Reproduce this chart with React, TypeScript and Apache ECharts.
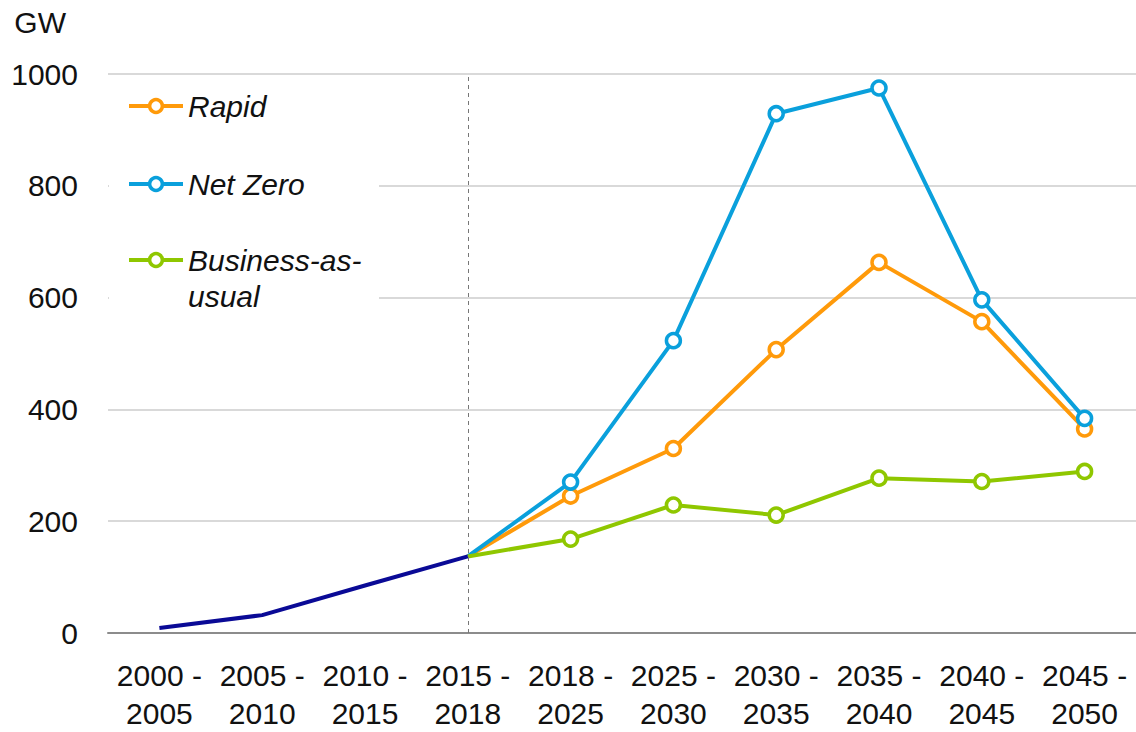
import React, { useEffect, useRef } from "react";
import * as echarts from "echarts";

const categories = [
  "2000 -\n2005",
  "2005 -\n2010",
  "2010 -\n2015",
  "2015 -\n2018",
  "2018 -\n2025",
  "2025 -\n2030",
  "2030 -\n2035",
  "2035 -\n2040",
  "2040 -\n2045",
  "2045 -\n2050",
];
const historical = [9, 32, 85, 137, null, null, null, null, null, null];
const rapid = [null, null, null, 137, 245, 330, 507, 663, 557, 365];
const netZero = [null, null, null, 137, 270, 523, 929, 975, 596, 384];
const bau = [null, null, null, 137, 168, 229, 211, 277, 271, 289];
const yTicks = { min: 0, max: 1000, interval: 200 };

const FONT = "'Liberation Sans', Arial, sans-serif";

function scenario(name: string, values: (number | null)[], color: string) {
  return {
    name,
    type: "line",
    data: values.map((v, i) => (i === 3 ? { value: v, symbol: "none" } : v)),
    symbol: "circle",
    symbolSize: 14,
    showSymbol: true,
    connectNulls: false,
    lineStyle: { color, width: 4 },
    itemStyle: { color: "#ffffff", borderColor: color, borderWidth: 3.5 },
    z: 3,
  };
}

export default function App() {
  const ref = useRef<HTMLDivElement>(null);
  useEffect(() => {
    if (!ref.current) return;
    const chart = echarts.init(ref.current, null, { renderer: "svg" });
    const L = 36;
    const legendBase = {
      orient: "vertical",
      left: 127,
      padding: 0,
      itemWidth: 54,
      itemHeight: 16,
      itemGap: 0,
      itemStyle: { borderWidth: 3.5 },
      lineStyle: { width: 4 },
      textStyle: {
        fontFamily: FONT,
        fontSize: 30,
        fontStyle: "italic",
        color: "#111",
        lineHeight: L,
      },
      z: 10,
    };
    chart.setOption({
      animation: false,
      textStyle: { fontFamily: FONT },
      grid: { left: 108, right: 0, top: 74, bottom: 94, containLabel: false },
      graphic: [
        {
          type: "rect",
          shape: { x: 109, y: 80, width: 270, height: 235 },
          style: { fill: "#fff" },
          z: 5,
        },
      ],
      legend: [
        { ...legendBase, top: 106 - L / 2, data: ["Rapid"] },
        { ...legendBase, top: 184 - L / 2, data: ["Net Zero"] },
        {
          ...legendBase,
          top: 260 - (3 * L) / 2,
          data: ["Business-as-usual"],
          formatter: () => "\nBusiness-as-\nusual",
        },
      ],
      xAxis: {
        type: "category",
        data: categories,
        boundaryGap: true,
        axisLine: { show: true, lineStyle: { color: "#8c8c8c", width: 2 } },
        axisTick: { show: false },
        axisLabel: {
          fontFamily: FONT,
          fontSize: 30,
          color: "#111",
          lineHeight: 38,
          margin: 23,
          interval: 0,
        },
        splitLine: { show: false },
      },
      yAxis: {
        type: "value",
        min: yTicks.min,
        max: yTicks.max,
        interval: yTicks.interval,
        name: "GW",
        nameLocation: "end",
        nameGap: 52,
        nameTextStyle: {
          fontFamily: FONT,
          fontSize: 30,
          color: "#111",
          align: "right",
          verticalAlign: "middle",
          padding: [0, 42, 0, 0],
        },
        axisLine: { show: false },
        axisTick: { show: false },
        axisLabel: {
          fontFamily: FONT,
          fontSize: 30,
          color: "#111",
          margin: 30,
          formatter: (v: number) => String(v),
        },
        splitLine: { lineStyle: { color: "#d9d9d9", width: 2 } },
      },
      series: [
        {
          name: "Historical",
          type: "line",
          data: historical,
          showSymbol: false,
          symbol: "none",
          lineStyle: { color: "#0a0a96", width: 4 },
          itemStyle: { color: "#0a0a96" },
          z: 4,
          markLine: {
            silent: true,
            symbol: "none",
            label: { show: false },
            lineStyle: { color: "#777", type: [4, 4], width: 1 },
            data: [{ xAxis: "2015 -\n2018" }],
          },
        },
        scenario("Rapid", rapid, "#ff9a0a"),
        scenario("Net Zero", netZero, "#0aa0dc"),
        scenario("Business-as-usual", bau, "#8fc700"),
      ],
    });
    return () => chart.dispose();
  }, []);
  return (
    <div
      ref={ref}
      style={{ position: "absolute", left: 0, top: 0, width: 1136, height: 732 }}
    />
  );
}
